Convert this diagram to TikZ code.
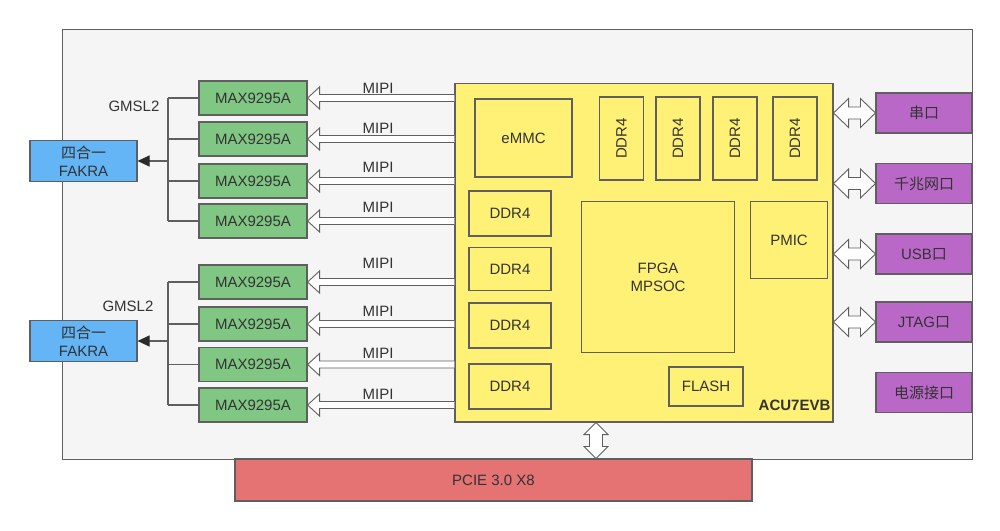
\documentclass[tikz,border=0pt]{standalone}
\usepackage{fontspec}
\setmainfont{Liberation Sans}
\newfontfamily\cjk{Noto Sans CJK SC}
\usetikzlibrary{calc,arrows.meta}
\definecolor{linec}{HTML}{5F5F5F}
\definecolor{tipc}{HTML}{2B2B2B}
\definecolor{txtc}{HTML}{333333}
\definecolor{bgc}{HTML}{F5F5F5}
\definecolor{yel}{HTML}{FFF176}
\definecolor{grn}{HTML}{81C784}
\definecolor{blu}{HTML}{64B5F6}
\definecolor{pur}{HTML}{BA68C8}
\definecolor{redc}{HTML}{E57373}
\tikzset{
  bx/.style={draw=linec, line width=1.1pt, rectangle, inner sep=0pt, text=txtc,
    font=\fontsize{15}{18}\selectfont, align=center},
  lbl/.style={text=txtc, font=\fontsize{15}{18}\selectfont, inner sep=0pt},
  hol/.style={draw=linec, fill=white, line width=0.9pt, line join=miter},
  busln/.style={draw=linec, line width=1.1pt},
}
\newcommand\hollowleft[2]{%
  \path (#1.east) coordinate (T) (#2.west |- #1.east) coordinate (S);
  \filldraw[hol] ($(S)+(0,-3.5)$) -- ($(T)+(12,-3.5)$) -- ($(T)+(12,-11)$) -- (T)
     -- ($(T)+(12,11)$) -- ($(T)+(12,3.5)$) -- ($(S)+(0,3.5)$);
}
\newcommand\dblright[2]{%
  \path (#2.west) coordinate (R) (#1.east |- #2.west) coordinate (L);
  \filldraw[hol] (L) -- ($(L)+(15,-14.5)$) -- ($(L)+(15,-6)$) -- ($(R)+(-15,-6)$)
     -- ($(R)+(-15,-14.5)$) -- (R) -- ($(R)+(-15,14.5)$) -- ($(R)+(-15,6)$)
     -- ($(L)+(15,6)$) -- ($(L)+(15,14.5)$) -- cycle;
}
\begin{document}
\begin{tikzpicture}[x=1pt,y=-1pt]
\useasboundingbox (0,0) rectangle (1000,530);
% background board
\node[bx, fill=bgc, line width=1pt, minimum width=910, minimum height=430] (bg) at (517,244) {};
\node[bx, fill=redc, minimum width=517, minimum height=42] (pcie) at (493.5,480) {PCIE 3.0 X8};
% main yellow board
\node[bx, fill=yel, minimum width=378, minimum height=338.5] (board) at (644,252.75) {};
\node[bx, fill=yel, minimum width=97, minimum height=78] (emmc) at (523.5,138) {eMMC};
\node[bx, fill=yel, minimum width=44, minimum height=83] (dv1) at (621.5,138.5) {\rotatebox{90}{DDR4}};
\node[bx, fill=yel, minimum width=44, minimum height=83] (dv2) at (678,138.5) {\rotatebox{90}{DDR4}};
\node[bx, fill=yel, minimum width=44, minimum height=83] (dv3) at (735,138.5) {\rotatebox{90}{DDR4}};
\node[bx, fill=yel, minimum width=44, minimum height=83] (dv4) at (795,138.5) {\rotatebox{90}{DDR4}};
\node[bx, fill=yel, minimum width=82, minimum height=45] (dl1) at (510,213.5) {DDR4};
\node[bx, fill=yel, minimum width=82, minimum height=43] (dl2) at (510,269) {DDR4};
\node[bx, fill=yel, minimum width=82, minimum height=45] (dl3) at (510,325.5) {DDR4};
\node[bx, fill=yel, minimum width=82, minimum height=45] (dl4) at (510,386.5) {DDR4};
\node[bx, fill=yel, minimum width=153.5, minimum height=150.5] (fpga) at (658,277) {FPGA\\MPSOC};
\node[bx, fill=yel, minimum width=76.5, minimum height=77] (pmic) at (789,240) {PMIC};
\node[bx, fill=yel, minimum width=74, minimum height=39] (flash) at (706,386.5) {FLASH};
\node[lbl, anchor=east, font=\fontsize{15}{18}\selectfont\bfseries] (acu) at ($(board.south east)+(-3,-17)$) {ACU7EVB};
% right interface boxes
\node[bx, fill=pur, minimum width=96, minimum height=40] (p1) at (924,113) {\cjk 串口};
\node[bx, fill=pur, minimum width=96, minimum height=40] (p2) at (924,183.5) {\cjk 千兆网口};
\node[bx, fill=pur, minimum width=96, minimum height=40] (p3) at (924,254) {USB{\cjk 口}};
\node[bx, fill=pur, minimum width=96, minimum height=40] (p4) at (924,322) {JTAG{\cjk 口}};
\node[bx, fill=pur, minimum width=96, minimum height=40] (p5) at (924,392.5) {\cjk 电源接口};
% serializers
\foreach \n/\y in {m1/98,m2/139,m3/181,m4/221,n1/282,n2/324,n3/364.5,n4/405}{
  \node[bx, fill=grn, minimum width=108, minimum height=34] (\n) at (253,\y) {MAX9295A};
}
\node[bx, fill=blu, minimum width=107, minimum height=41] (fk1) at (83.5,161) {{\cjk 四合一}\\FAKRA};
\node[bx, fill=blu, minimum width=107, minimum height=41] (fk2) at (83.5,341) {{\cjk 四合一}\\FAKRA};
\node[lbl] (g1) at (134,106) {GMSL2};
\node[lbl] (g2) at (128,306) {GMSL2};
% MIPI labels
\foreach \y [count=\i] in {88,128,167,207,263,311,353,394}{
  \node[lbl] (mipi\i) at (378,\y) {MIPI};
}
% bus lines
\coordinate (bx1) at (168,98);
\coordinate (bx2) at (168,282);
\foreach \n in {m1,m2,m3,m4}{ \draw[busln] (\n.west) -- (\n.west -| bx1); }
\foreach \n in {n1,n2,n3,n4}{ \draw[busln] (\n.west) -- (\n.west -| bx2); }
\draw[busln] (m1.west -| bx1) -- (m4.west -| bx1);
\draw[busln] (n1.west -| bx2) -- (n4.west -| bx2);
\draw[busln, -{Triangle[length=12pt,width=11pt,color=tipc]}] (bx1 |- fk1.east) -- (fk1.east);
\draw[busln, -{Triangle[length=12pt,width=11pt,color=tipc]}] (bx2 |- fk2.east) -- (fk2.east);
% MIPI hollow arrows
\foreach \n in {m1,m2,m3,m4,n1,n2,n3,n4}{ \hollowleft{\n}{board} }
% right double arrows
\foreach \n in {p1,p2,p3,p4}{ \dblright{board}{\n} }
% vertical double arrow to PCIE
\path (board.south) ++(-48,0) coordinate (U);
\path (U |- pcie.north) coordinate (D);
\filldraw[hol] (U) -- ($(U)+(-12,12)$) -- ($(U)+(-6.5,12)$) -- ($(D)+(-6.5,-12)$)
  -- ($(D)+(-12,-12)$) -- (D) -- ($(D)+(12,-12)$) -- ($(D)+(6.5,-12)$)
  -- ($(U)+(6.5,12)$) -- ($(U)+(12,12)$) -- cycle;
\end{tikzpicture}
\end{document}
